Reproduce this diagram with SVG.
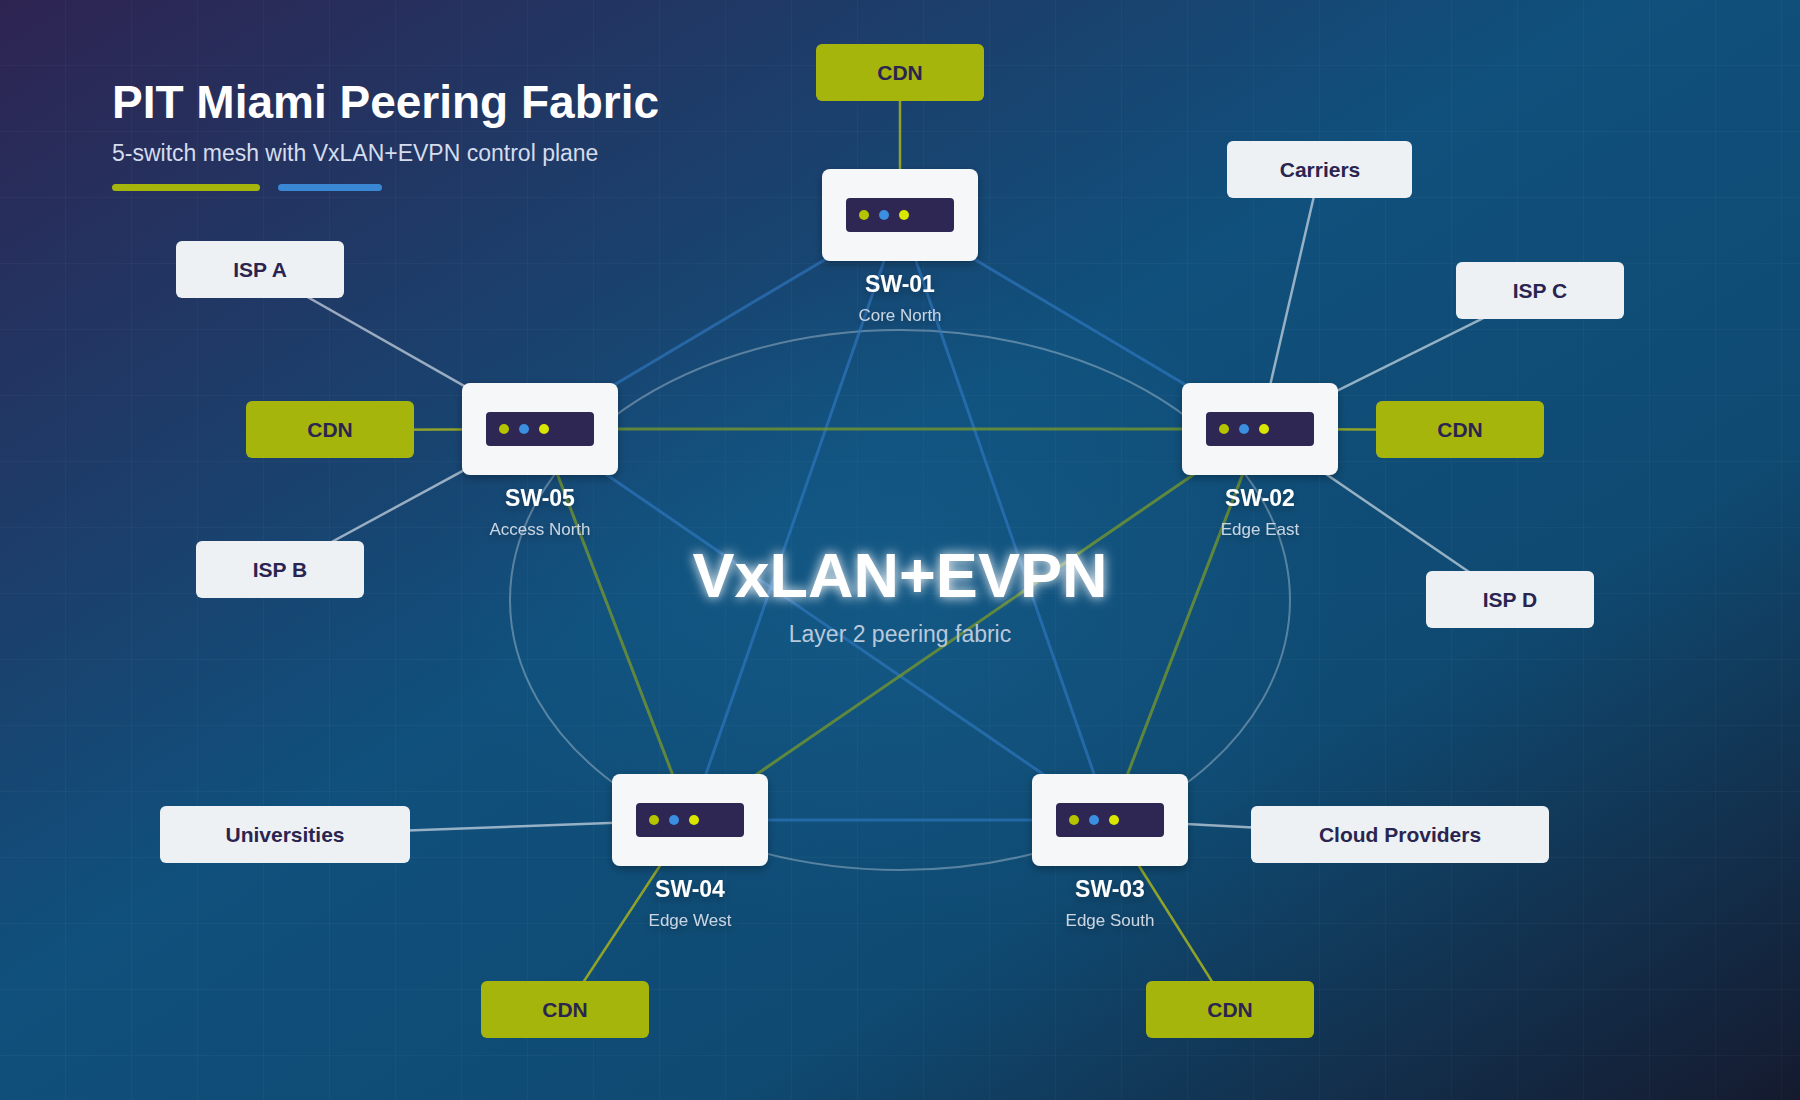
<svg xmlns="http://www.w3.org/2000/svg" width="1800" height="1100" viewBox="0 0 1800 1100">
<defs>
<linearGradient id="bg" x1="0" y1="0" x2="1" y2="1">
<stop offset="0" stop-color="#2e2452"/>
<stop offset="0.45" stop-color="#10507c"/>
<stop offset="0.7" stop-color="#0f4a72"/>
<stop offset="1" stop-color="#151a2e"/>
</linearGradient>
<radialGradient id="halo" cx="0.5" cy="0.5" r="0.5">
<stop offset="0" stop-color="#1a6a9a" stop-opacity="0.35"/>
<stop offset="1" stop-color="#1a6a9a" stop-opacity="0"/>
</radialGradient>
<pattern id="grid" width="66" height="66" patternUnits="userSpaceOnUse">
<path d="M66 0V66M0 66H66" fill="none" stroke="#ffffff" stroke-opacity="0.05" stroke-width="1"/>
</pattern>
<filter id="glow" x="-20%" y="-50%" width="140%" height="200%">
<feGaussianBlur stdDeviation="6" result="b"/>
<feMerge><feMergeNode in="b"/><feMergeNode in="SourceGraphic"/></feMerge>
</filter>
<filter id="shadow" x="-20%" y="-20%" width="140%" height="150%">
<feDropShadow dx="0" dy="3" stdDeviation="4" flood-color="#000" flood-opacity="0.3"/>
</filter>
</defs>
<style>
.sw{fill:#f6f7f9}
.bar{fill:#2e2552}
.peer{fill:#eef1f4}
.cdn{fill:#a6b50c}
.plabel{font-family:"Liberation Sans",Arial,sans-serif;font-weight:bold;font-size:21px;fill:#2a2550;text-anchor:middle}
.swname{font-family:"Liberation Sans",Arial,sans-serif;font-weight:bold;font-size:23px;fill:#ffffff;text-anchor:middle}
.swsub{font-family:"Liberation Sans",Arial,sans-serif;font-size:17px;fill:#c9d5e2;text-anchor:middle}
.blue{stroke:#2f78c0;stroke-width:3;stroke-opacity:0.65;fill:none}
.green{stroke:#7a9a28;stroke-width:3;stroke-opacity:0.75;fill:none}
.wl{stroke:#dfe6ee;stroke-width:2.5;stroke-opacity:0.65;fill:none}
.cl{stroke:#8fa22a;stroke-width:2.5;fill:none}
</style>
<rect width="1800" height="1100" fill="url(#bg)"/>
<rect width="1800" height="1100" fill="url(#grid)"/>
<ellipse cx="900" cy="600" rx="450" ry="330" fill="url(#halo)"/>
<ellipse cx="900" cy="600" rx="390" ry="270" fill="none" stroke="#ffffff" stroke-opacity="0.3" stroke-width="2"/>

<g id="title">
<text x="112" y="118" font-family="Liberation Sans,Arial,sans-serif" font-weight="bold" font-size="46" fill="#ffffff">PIT Miami Peering Fabric</text>
<text x="112" y="161" font-family="Liberation Sans,Arial,sans-serif" font-size="23" fill="#d5dcec">5-switch mesh with VxLAN+EVPN control plane</text>
<rect x="112" y="184" width="148" height="7" rx="3.5" fill="#a6b50c"/>
<rect x="278" y="184" width="104" height="7" rx="3.5" fill="#3a88d4"/>
</g>

<g id="connectors">
<line class="blue" x1="900" y1="215" x2="540" y2="429"/>
<line class="blue" x1="900" y1="215" x2="1260" y2="429"/>
<line class="blue" x1="900" y1="215" x2="690" y2="820"/>
<line class="blue" x1="900" y1="215" x2="1110" y2="820"/>
<line class="green" x1="540" y1="429" x2="1260" y2="429"/>
<line class="green" x1="540" y1="429" x2="690" y2="820"/>
<line class="blue" x1="540" y1="429" x2="1110" y2="820"/>
<line class="green" x1="1260" y1="429" x2="690" y2="820"/>
<line class="green" x1="1260" y1="429" x2="1110" y2="820"/>
<line class="blue" x1="690" y1="820" x2="1110" y2="820"/>
<line class="cl" x1="900" y1="72" x2="900" y2="215"/>
<line class="cl" x1="330" y1="430" x2="540" y2="429"/>
<line class="cl" x1="1460" y1="430" x2="1260" y2="429"/>
<line class="cl" x1="565" y1="1010" x2="690" y2="820"/>
<line class="cl" x1="1230" y1="1010" x2="1110" y2="820"/>
<line class="wl" x1="260" y1="270" x2="540" y2="429"/>
<line class="wl" x1="280" y1="570" x2="540" y2="429"/>
<line class="wl" x1="1320" y1="170" x2="1260" y2="429"/>
<line class="wl" x1="1540" y1="290" x2="1260" y2="429"/>
<line class="wl" x1="1510" y1="600" x2="1260" y2="429"/>
<line class="wl" x1="285" y1="835" x2="690" y2="820"/>
<line class="wl" x1="1400" y1="835" x2="1110" y2="820"/>
</g>

<g id="center-label">
<text x="900" y="597" font-family="Liberation Sans,Arial,sans-serif" font-weight="bold" font-size="63" fill="#ffffff" text-anchor="middle" filter="url(#glow)">VxLAN+EVPN</text>
<text x="900" y="642" font-family="Liberation Sans,Arial,sans-serif" font-size="23" fill="#b9c8da" text-anchor="middle">Layer 2 peering fabric</text>
</g>

<g id="sw-01" filter="url(#shadow)">
<rect class="sw" x="822" y="169" width="156" height="92" rx="8"/>
<rect class="bar" x="846" y="198" width="108" height="34" rx="4"/>
<circle cx="864" cy="215" r="5" fill="#b5c400"/><circle cx="884" cy="215" r="5" fill="#3a8ee0"/><circle cx="904" cy="215" r="5" fill="#d8e600"/>
<text class="swname" x="900" y="292">SW-01</text><text class="swsub" x="900" y="321">Core North</text>
</g>
<g id="sw-05" filter="url(#shadow)">
<rect class="sw" x="462" y="383" width="156" height="92" rx="8"/>
<rect class="bar" x="486" y="412" width="108" height="34" rx="4"/>
<circle cx="504" cy="429" r="5" fill="#b5c400"/><circle cx="524" cy="429" r="5" fill="#3a8ee0"/><circle cx="544" cy="429" r="5" fill="#d8e600"/>
<text class="swname" x="540" y="506">SW-05</text><text class="swsub" x="540" y="535">Access North</text>
</g>
<g id="sw-02" filter="url(#shadow)">
<rect class="sw" x="1182" y="383" width="156" height="92" rx="8"/>
<rect class="bar" x="1206" y="412" width="108" height="34" rx="4"/>
<circle cx="1224" cy="429" r="5" fill="#b5c400"/><circle cx="1244" cy="429" r="5" fill="#3a8ee0"/><circle cx="1264" cy="429" r="5" fill="#d8e600"/>
<text class="swname" x="1260" y="506">SW-02</text><text class="swsub" x="1260" y="535">Edge East</text>
</g>
<g id="sw-04" filter="url(#shadow)">
<rect class="sw" x="612" y="774" width="156" height="92" rx="8"/>
<rect class="bar" x="636" y="803" width="108" height="34" rx="4"/>
<circle cx="654" cy="820" r="5" fill="#b5c400"/><circle cx="674" cy="820" r="5" fill="#3a8ee0"/><circle cx="694" cy="820" r="5" fill="#d8e600"/>
<text class="swname" x="690" y="897">SW-04</text><text class="swsub" x="690" y="926">Edge West</text>
</g>
<g id="sw-03" filter="url(#shadow)">
<rect class="sw" x="1032" y="774" width="156" height="92" rx="8"/>
<rect class="bar" x="1056" y="803" width="108" height="34" rx="4"/>
<circle cx="1074" cy="820" r="5" fill="#b5c400"/><circle cx="1094" cy="820" r="5" fill="#3a8ee0"/><circle cx="1114" cy="820" r="5" fill="#d8e600"/>
<text class="swname" x="1110" y="897">SW-03</text><text class="swsub" x="1110" y="926">Edge South</text>
</g>

<g id="cdn-top"><rect class="cdn" x="816" y="44" width="168" height="57" rx="6"/><text class="plabel" x="900" y="80">CDN</text></g>
<g id="carriers"><rect class="peer" x="1227" y="141" width="185" height="57" rx="6"/><text class="plabel" x="1320" y="177">Carriers</text></g>
<g id="isp-c"><rect class="peer" x="1456" y="262" width="168" height="57" rx="6"/><text class="plabel" x="1540" y="298">ISP C</text></g>
<g id="cdn-right"><rect class="cdn" x="1376" y="401" width="168" height="57" rx="6"/><text class="plabel" x="1460" y="437">CDN</text></g>
<g id="isp-d"><rect class="peer" x="1426" y="571" width="168" height="57" rx="6"/><text class="plabel" x="1510" y="607">ISP D</text></g>
<g id="cloud"><rect class="peer" x="1251" y="806" width="298" height="57" rx="6"/><text class="plabel" x="1400" y="842">Cloud Providers</text></g>
<g id="cdn-sw03"><rect class="cdn" x="1146" y="981" width="168" height="57" rx="6"/><text class="plabel" x="1230" y="1017">CDN</text></g>
<g id="cdn-sw04"><rect class="cdn" x="481" y="981" width="168" height="57" rx="6"/><text class="plabel" x="565" y="1017">CDN</text></g>
<g id="universities"><rect class="peer" x="160" y="806" width="250" height="57" rx="6"/><text class="plabel" x="285" y="842">Universities</text></g>
<g id="isp-b"><rect class="peer" x="196" y="541" width="168" height="57" rx="6"/><text class="plabel" x="280" y="577">ISP B</text></g>
<g id="cdn-left"><rect class="cdn" x="246" y="401" width="168" height="57" rx="6"/><text class="plabel" x="330" y="437">CDN</text></g>
<g id="isp-a"><rect class="peer" x="176" y="241" width="168" height="57" rx="6"/><text class="plabel" x="260" y="277">ISP A</text></g>
</svg>
